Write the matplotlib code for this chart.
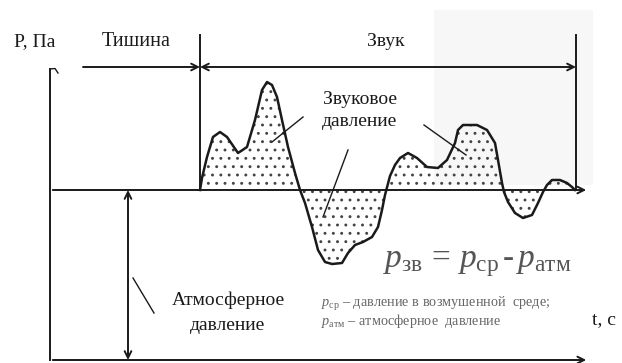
import matplotlib
matplotlib.use('Agg')
import matplotlib.pyplot as plt
from matplotlib.patches import Rectangle

plt.rcParams['font.family'] = ['Liberation Serif', 'DejaVu Serif']
plt.rcParams['mathtext.fontset'] = 'custom'
plt.rcParams['mathtext.rm'] = 'Liberation Serif'
plt.rcParams['mathtext.it'] = 'Liberation Serif:italic'
plt.rcParams['hatch.color'] = '#444444'
plt.rcParams['hatch.linewidth'] = 0.9

# time axis in arbitrary units, pressure relative to zero
p_atm = 17.0
t_silence = (3.3, 15.0)
t_sound = (15.0, 52.6)

# sound pressure curve (deviation from atmospheric pressure)
t_curve = [15.0, 15.2, 15.7, 16.3, 17.0, 17.7, 18.8, 19.7, 20.5, 21.2,
           21.7, 22.2, 22.7, 23.2, 23.8, 24.5, 25.0, 25.5, 26.2, 26.8,
           27.5, 28.2, 29.2, 29.8, 30.5, 31.3, 32.2, 32.8, 33.2, 33.5,
           34.0, 34.5, 35.0, 35.8, 36.7, 37.7, 38.8, 39.7, 40.5, 40.8,
           41.3, 42.7, 43.7, 44.5, 44.8, 45.2, 45.4, 45.8, 46.5, 47.3,
           48.2, 48.8, 49.3, 49.7, 50.2, 51.0, 51.7, 52.2, 52.5]
p_curve = [0.0, 1.2, 3.3, 5.3, 5.8, 5.3, 3.7, 4.3, 7.0, 10.0,
           10.8, 10.5, 9.3, 7.0, 4.3, 1.7, 0.0, -1.3, -3.7, -6.0,
           -7.2, -7.4, -7.3, -6.3, -5.5, -5.2, -4.7, -3.7, -2.0, -0.5,
           1.4, 2.5, 3.2, 3.7, 3.2, 2.3, 2.2, 3.0, 4.7, 6.0,
           6.5, 6.5, 6.0, 4.7, 3.0, 0.7, -0.2, -1.2, -2.3, -2.8,
           -2.5, -1.3, -0.2, 0.5, 1.0, 1.0, 0.7, 0.3, 0.0]

p_total = [p_atm + v for v in p_curve]

fig = plt.figure(figsize=(6.22, 3.63), dpi=100)
ax = fig.add_axes([0, 0, 1, 1])
ax.set_xlim(-5, 57.2)
ax.set_ylim(-0.3, 36.0)
ax.axis('off')

lw = 1.4
ink = '#1a1a1a'

# faint scan shading in the upper right
ax.add_patch(Rectangle((38.4, 17.5), 15.9, 17.5, color='#f7f7f7', lw=0, zorder=0))

# filled stippled area + curve
ax.fill_between(t_curve, p_atm, p_total, facecolor='none', edgecolor='#444444',
                linewidth=0, hatch='..', zorder=1)
ax.plot(t_curve, p_total, color=ink, lw=1.8, solid_joinstyle='round', zorder=3)

# axes
ax.plot([0, 0], [0, 29.1], color=ink, lw=lw)
ax.plot([0, 0.5, 0.8], [29.1, 29.15, 28.7], color=ink, lw=1.0)
ax.annotate('', xy=(53.9, 0), xytext=(0, 0),
            arrowprops=dict(arrowstyle='->', lw=lw, color=ink, mutation_scale=12))
ax.annotate('', xy=(53.9, p_atm), xytext=(0, p_atm),
            arrowprops=dict(arrowstyle='->', lw=lw, color=ink, mutation_scale=12))

# silence / sound boundaries
top = 32.5
dim_y = 29.3
for t in (t_sound[0], t_sound[1]):
    ax.plot([t, t], [p_atm, top], color=ink, lw=lw)
ax.annotate('', xy=(t_silence[1], dim_y), xytext=(t_silence[0], dim_y),
            arrowprops=dict(arrowstyle='->', lw=lw, color=ink, mutation_scale=12,
                            shrinkA=0, shrinkB=0))
ax.annotate('', xy=(t_sound[1], dim_y), xytext=(t_sound[0], dim_y),
            arrowprops=dict(arrowstyle='<->', lw=lw, color=ink, mutation_scale=12,
                            shrinkA=0, shrinkB=0))

# atmospheric pressure dimension
ax.annotate('', xy=(7.8, 0), xytext=(7.8, p_atm),
            arrowprops=dict(arrowstyle='<->', lw=lw, color=ink, mutation_scale=12,
                            shrinkA=0, shrinkB=0))

# leader lines
ax.plot([25.3, 22.2], [24.3, 21.8], color=ink, lw=1.0, zorder=4)
ax.plot([29.8, 27.3], [21.0, 14.3], color=ink, lw=1.0, zorder=4)
ax.plot([37.4, 41.6], [23.5, 20.5], color=ink, lw=1.0, zorder=4)
ax.plot([8.3, 10.4], [8.2, 4.7], color=ink, lw=1.0, zorder=4)

# labels
fs = 14
ax.text(-1.5, 31.8, 'P, Па', fontsize=fs, ha='center', va='center', color=ink)
ax.text(8.6, 31.8, 'Тишина', fontsize=14.5, ha='center', va='center', color=ink)
ax.text(33.6, 31.8, 'Звук', fontsize=fs, ha='center', va='center', color=ink)
ax.text(31.0, 26.0, 'Звуковое', fontsize=fs, ha='center', va='center', color=ink)
ax.text(31.0, 23.8, 'давление', fontsize=fs, ha='center', va='center', color=ink)
ax.text(17.8, 6.0, 'Атмосферное', fontsize=fs, ha='center', va='center', color=ink)
ax.text(17.8, 3.5, 'давление', fontsize=fs, ha='center', va='center', color=ink)
ax.text(55.4, 4.0, 't, c', fontsize=fs, ha='center', va='center', color=ink)

ax.text(33.3, 9.3, r'$p_{\mathrm{зв}}\,=\,p_{\mathrm{ср}}\,$-$\,p_{\mathrm{атм}}$',
        fontsize=24, ha='left', va='baseline', color='#555555')
ax.text(27.1, 5.6, r'$p_{\mathrm{ср}}$ – давление в возмушенной  среде;',
        fontsize=10.3, ha='left', va='center', color='#666666')
ax.text(27.1, 3.9, r'$p_{\mathrm{атм}}$ – атмосферное  давление',
        fontsize=10.3, ha='left', va='center', color='#666666')

fig.savefig('out.png', dpi=100)
